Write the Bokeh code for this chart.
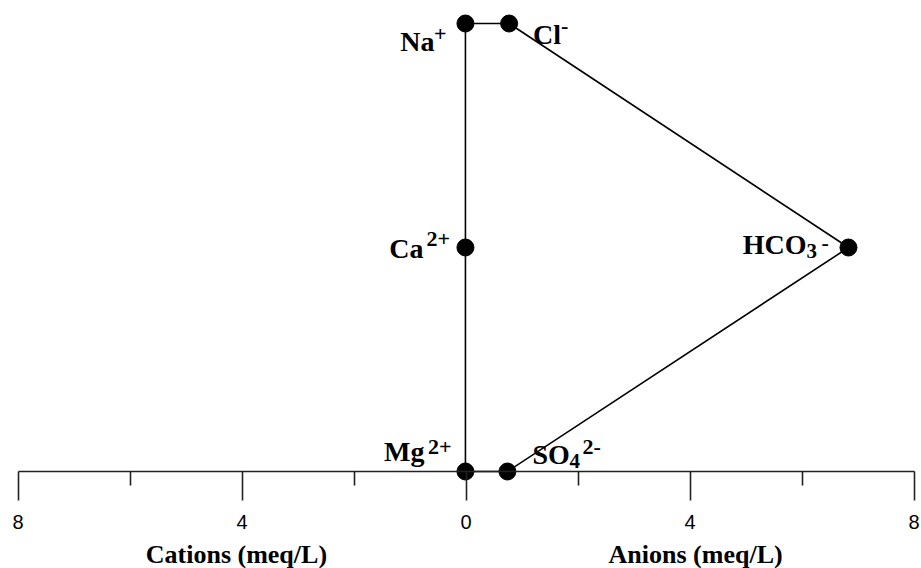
from bokeh.plotting import figure
from bokeh.models import ColumnDataSource, Range1d, LinearAxis, FixedTicker
from bokeh.core.properties import value
from bokeh.embed import file_html
from bokeh.resources import INLINE

# ---------------- data ----------------
cations = ["Na", "Ca", "Mg"]
cation_sup = ["+", "2+", "2+"]
cation_meq = [0.01, 0.01, 0.01]

anions = ["Cl", "HCO", "SO"]
anion_sub = ["", "3", "4"]
anion_sup = ["-", "-", "2-"]
anion_meq = [0.77, 6.83, 0.74]

row = [2, 1, 0]  # Na/Cl top, Ca/HCO3 middle, Mg/SO4 bottom

major_ticks = [-8, -4, 0, 4, 8]
minor_ticks = [-6, -2, 2, 6]
tick_labels = ["8", "4", "0", "4", "8"]

cation_title = "Cations (meq/L)"
anion_title = "Anions (meq/L)"
title_pos = [-4.1, 4.1]

# ---------------- layout ----------------
PX_X = 56.0    # pixels per meq/L
PX_Y = 224.0   # pixels per row
X0 = 465.5     # pixel of zero
Y0 = 471.0     # pixel of bottom row
W, H = 921, 568

p = figure(width=W, height=H,
           x_range=Range1d(-X0 / PX_X, (W - X0) / PX_X),
           y_range=Range1d(-(H - Y0) / PX_Y, Y0 / PX_Y),
           x_axis_type=None, y_axis_type=None,
           min_border=0, toolbar_location=None,
           output_backend="svg", outline_line_color=None,
           background_fill_color="white", border_fill_color="white")

# polygon (cations plotted on negative side)
cx = [-v for v in cation_meq]
poly_x = [cx[0], anion_meq[0], anion_meq[1], anion_meq[2], cx[2], cx[1]]
poly_y = [row[0], row[0], row[1], row[2], row[2], row[1]]
p.patch(poly_x, poly_y, fill_alpha=0, line_color="black", line_width=1.6)

# axis at y = 0
axis = LinearAxis(fixed_location=0,
                  ticker=FixedTicker(ticks=major_ticks, minor_ticks=minor_ticks),
                  major_label_overrides={t: l for t, l in zip(major_ticks, tick_labels)},
                  bounds=(min(major_ticks), max(major_ticks)))
axis.axis_line_color = "#222222"
axis.axis_line_width = 1.6
axis.major_tick_line_color = "#222222"
axis.major_tick_line_width = 1.6
axis.minor_tick_line_color = "#222222"
axis.minor_tick_line_width = 1.6
axis.major_tick_in = 0
axis.major_tick_out = 29
axis.minor_tick_in = 0
axis.minor_tick_out = 14
axis.major_label_standoff = 14
axis.major_label_text_font = "Liberation Sans"
axis.major_label_text_font_size = "20px"
axis.major_label_text_color = "black"
p.add_layout(axis, "below")

# points
p.scatter(cx + anion_meq, row + row, size=17, color="black")

serif = value("Liberation Serif")

def pieces(xs, texts, dxs, dys, size, aligns):
    src = ColumnDataSource(dict(x=xs, y=row, t=texts, dx=dxs, dy=dys, a=aligns))
    p.text(x="x", y="y", text="t", x_offset="dx", y_offset="dy", source=src,
           text_font=serif, text_font_style="bold", text_font_size=size,
           text_align="a", text_baseline="alphabetic", text_color="black")

# cation labels (left of the points)
pieces(cx, cations, [-31, -42, -41], [18, 1, -20], "28px", ["right"] * 3)
pieces(cx, cation_sup, [-19, -39, -14], [10, -9, -25], "22px", ["right", "left", "right"])

# anion labels
pieces(anion_meq, anions, [24, -42, 25], [11, -3, -17], "28px", ["left", "right", "left"])
pieces(anion_meq, anion_sub, [0, -42, 62], [0, 3, -11], "21px", ["left"] * 3)
pieces(anion_meq, anion_sup, [52, -27, 75], [2, -5, -25], "22px", ["left"] * 3)

# axis titles
tsrc = ColumnDataSource(dict(x=title_pos, y=[0, 0], t=[cation_title, anion_title]))
p.text(x="x", y="y", text="t", source=tsrc, y_offset=83,
       text_font=serif, text_font_style="bold", text_font_size="26px",
       text_align="center", text_baseline="alphabetic", text_color="black")

open("out.html", "w").write(file_html(p, INLINE))
